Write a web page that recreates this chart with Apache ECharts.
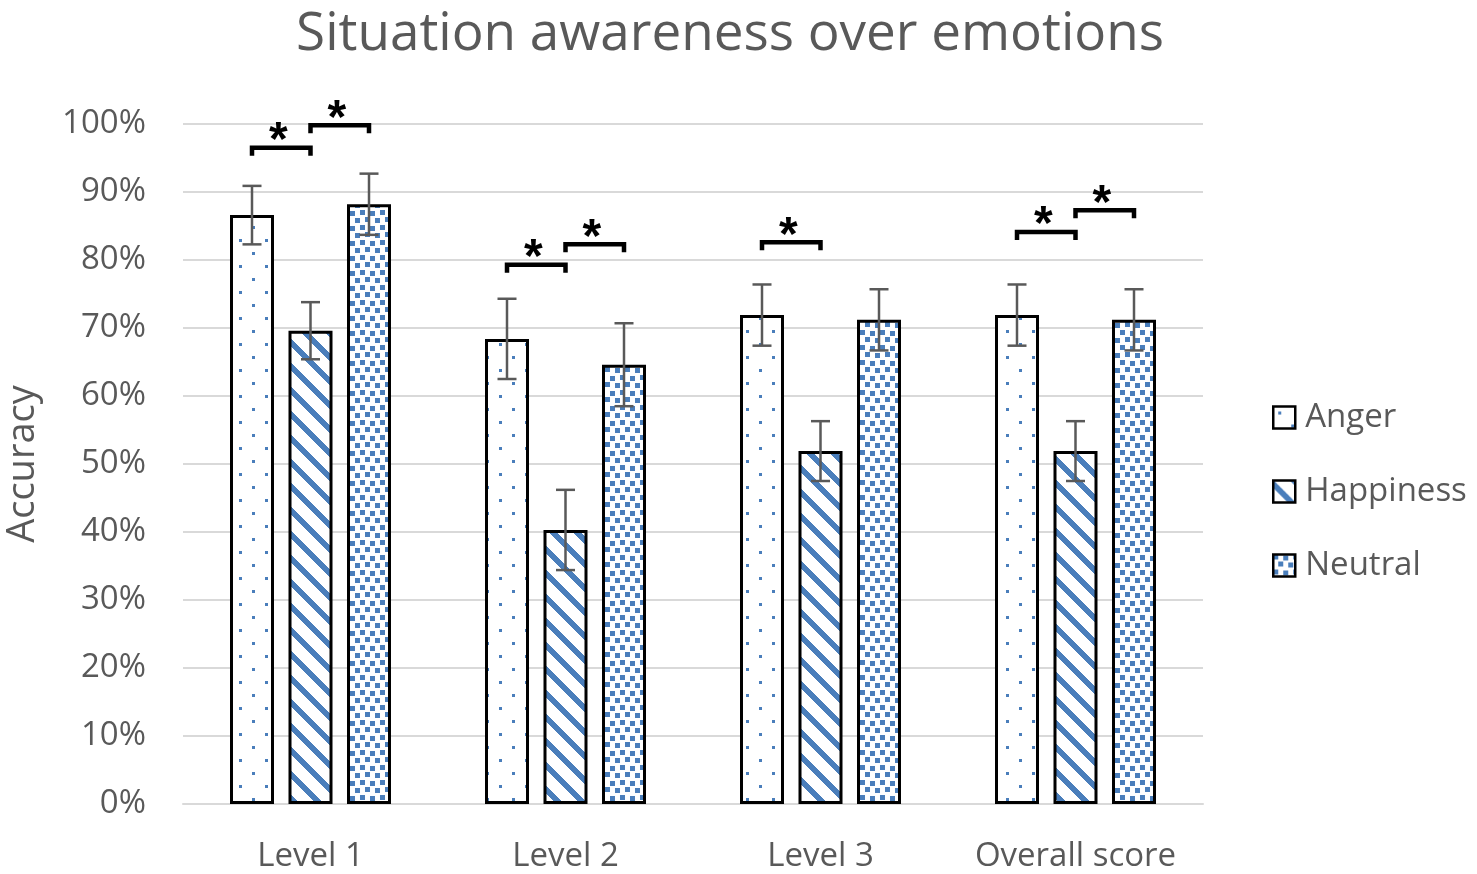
<!DOCTYPE html>
<html>
<head>
<meta charset="utf-8">
<script src="https://cdn.jsdelivr.net/npm/echarts@6/dist/echarts.min.js"></script>
<style>
html,body{margin:0;padding:0;background:#fff;}
#chart{width:1477px;height:874px;}
</style>
</head>
<body>
<div id="chart"></div>
<script>
// ---- data ----
var categories = ['Level 1', 'Level 2', 'Level 3', 'Overall score'];
var seriesNames = ['Anger', 'Happiness', 'Neutral'];
var anger = [86.6, 68.4, 71.9, 71.9];
var happiness = [69.6, 40.3, 51.9, 51.9];
var neutral = [88.2, 64.6, 71.2, 71.2];
var angerErr = [4.3, 5.9, 4.5, 4.5];
var happinessErr = [4.2, 5.9, 4.4, 4.4];
var neutralErr = [4.5, 6.1, 4.5, 4.5];
// significance brackets: [categoryIndex, fromSeries, toSeries, yValue(%)]
var brackets = [
  [0, 0, 1, 96.8], [0, 1, 2, 100.1],
  [1, 0, 1, 79.6], [1, 1, 2, 82.6],
  [2, 0, 1, 82.9],
  [3, 0, 1, 84.4], [3, 1, 2, 87.6]
];
var yTicks = { min: 0, max: 100, interval: 10 };

// ---- style / layout ----
var BLUE = '#4a7ebb';
var BAR_W = 44;
var GAP_PX = 14.5;
var STEP = BAR_W + GAP_PX;
var TXT = '#595959';
var FONT = 'Open Sans';

function makePattern(kind) {
  var c = document.createElement('canvas');
  var ctx;
  if (kind === 'dots') {
    c.width = 26; c.height = 26;
    ctx = c.getContext('2d');
    ctx.fillStyle = '#fff'; ctx.fillRect(0, 0, 26, 26);
    ctx.fillStyle = BLUE;
    ctx.fillRect(5, 5, 3, 3);
    ctx.fillRect(18, 18, 3, 3);
  } else if (kind === 'stripes') {
    var P = 24;
    c.width = P; c.height = P;
    ctx = c.getContext('2d');
    ctx.fillStyle = '#fff'; ctx.fillRect(0, 0, P, P);
    ctx.fillStyle = BLUE;
    for (var y = 0; y < P; y++) {
      for (var x = 0; x < P; x++) {
        var d = ((y - x) % P + P) % P;
        if (d < 8) ctx.fillRect(x, y, 1, 1);
      }
    }
  } else {
    var TW = 20, TH = 15;
    c.width = TW; c.height = TH;
    ctx = c.getContext('2d');
    ctx.fillStyle = '#fff'; ctx.fillRect(0, 0, TW, TH);
    ctx.fillStyle = BLUE;
    var sq = [[0,0],[10,1],[5,7],[15,8]];
    sq.forEach(function (p) {
      for (var dx = -TW; dx <= TW; dx += TW)
        for (var dy = -TH; dy <= TH; dy += TH)
          ctx.fillRect(p[0] + dx, p[1] + dy, 5, 5);
    });
  }
  return { image: c, repeat: 'repeat' };
}

var values = [anger, happiness, neutral];
var errs = [angerErr, happinessErr, neutralErr];
var patterns = [makePattern('dots'), makePattern('stripes'), makePattern('confetti')];

var errData = [];
for (var s = 0; s < 3; s++) {
  for (var i = 0; i < categories.length; i++) {
    errData.push([i, s, values[s][i] - errs[s][i], values[s][i] + errs[s][i]]);
  }
}

var barSeries = seriesNames.map(function (name, s) {
  return {
    name: name,
    type: 'bar',
    data: values[s],
    barWidth: BAR_W,
    barGap: (GAP_PX / BAR_W * 100) + '%',
    itemStyle: { color: patterns[s], borderColor: '#000', borderWidth: 3 },
    emphasis: { disabled: true },
    z: 2
  };
});

var chart = echarts.init(document.getElementById('chart'), null, { renderer: 'canvas' });
chart.setOption({
  animation: false,
  backgroundColor: '#fff',
  title: {
    text: 'Situation awareness over emotions',
    left: 725, top: 3, textAlign: 'center',
    textStyle: { fontFamily: FONT, fontSize: 53, fontWeight: 'normal', color: TXT }
  },
  legend: {
    orient: 'vertical', left: 1272, top: 401, padding: 0,
    itemWidth: 22, itemHeight: 22, itemGap: 41,
    data: seriesNames,
    itemStyle: { borderColor: '#000', borderWidth: 2.5 },
    textStyle: { fontFamily: FONT, fontSize: 33, color: TXT, padding: [0, 0, 0, 5] },
    icon: 'rect'
  },
  grid: { left: 183, right: 274, top: 124, bottom: 70, outerBoundsMode: 'none', containLabel: false },
  xAxis: {
    type: 'category', data: categories,
    axisLine: { lineStyle: { color: '#d9d9d9', width: 2 } },
    axisTick: { show: false },
    axisLabel: { fontFamily: FONT, fontSize: 33, color: TXT, margin: 36, interval: 0 }
  },
  yAxis: {
    type: 'value', min: yTicks.min, max: yTicks.max, interval: yTicks.interval,
    name: 'Accuracy', nameLocation: 'middle', nameGap: 141, nameRotate: 90,
    nameTextStyle: { fontFamily: FONT, fontSize: 38, color: TXT },
    axisLine: { show: false }, axisTick: { show: false },
    splitLine: { lineStyle: { color: '#d9d9d9', width: 2 } },
    axisLabel: { fontFamily: FONT, fontSize: 33, color: TXT, margin: 37, formatter: '{value}%' }
  },
  series: barSeries.concat([
    {
      type: 'custom', name: 'err', z: 5, silent: true,
      data: errData,
      renderItem: function (params, api) {
        var ci = api.value(0), s = api.value(1);
        var x = api.coord([ci, 0])[0] + (s - 1) * STEP;
        var yl = api.coord([ci, api.value(2)])[1];
        var yh = api.coord([ci, api.value(3)])[1];
        var cw = 9.5;
        var st = { stroke: '#595959', lineWidth: 2.5 };
        return { type: 'group', children: [
          { type: 'line', shape: { x1: x, y1: yl, x2: x, y2: yh }, style: st },
          { type: 'line', shape: { x1: x - cw, y1: yh, x2: x + cw, y2: yh }, style: st },
          { type: 'line', shape: { x1: x - cw, y1: yl, x2: x + cw, y2: yl }, style: st }
        ]};
      }
    },
    {
      type: 'custom', name: 'sig', z: 6, silent: true, clip: false,
      data: brackets,
      renderItem: function (params, api) {
        var ci = api.value(0), a = api.value(1), b = api.value(2);
        var cx = api.coord([ci, 0])[0];
        var y = api.coord([ci, api.value(3)])[1] + 2;
        var x1 = cx + (a - 1) * STEP, x2 = cx + (b - 1) * STEP;
        return { type: 'group', children: [
          { type: 'polyline', shape: { points: [[x1, y + 8], [x1, y], [x2, y], [x2, y + 8]] },
            style: { stroke: '#000', lineWidth: 4.5, fill: null, lineJoin: 'miter', lineCap: 'butt' } },
          { type: 'text', style: { text: '*', x: (x1 + x2) / 2 - 3, y: y - 6, textAlign: 'center', textVerticalAlign: 'middle',
              font: 'bold 48px "Liberation Sans"', fill: '#000' } }
        ]};
      }
    }
  ])
});
</script>
</body>
</html>
